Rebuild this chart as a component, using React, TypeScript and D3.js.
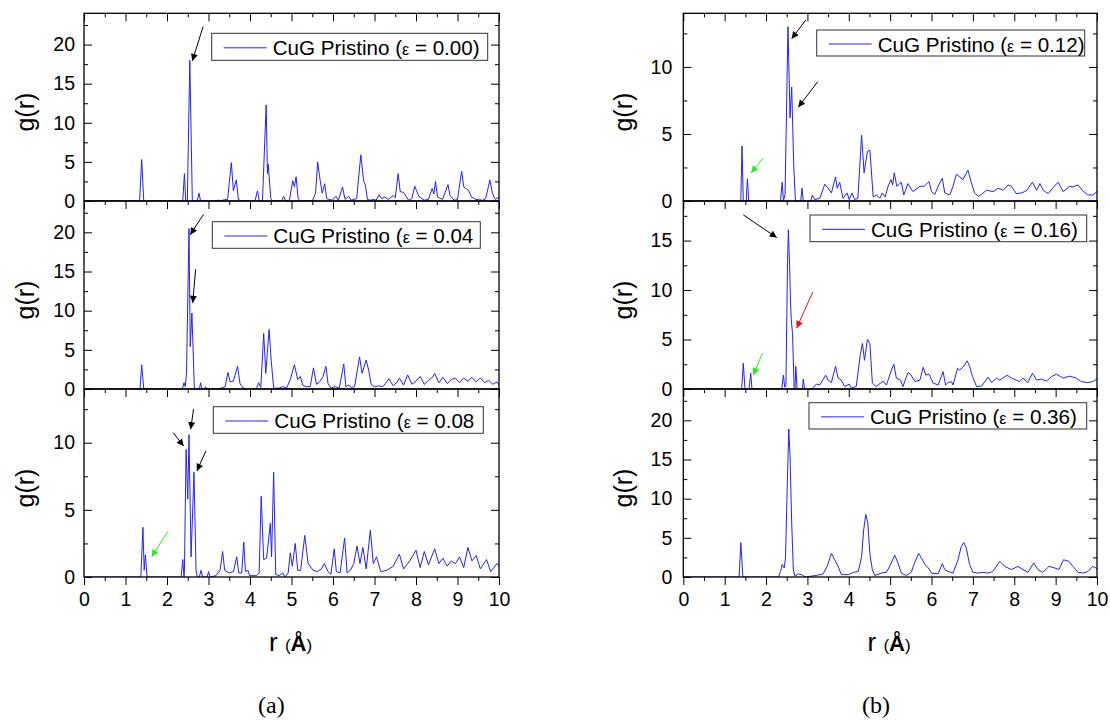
import React, { useEffect, useRef } from "react";
import * as d3 from "d3";

type Pt = [number, number];
type Arrow = [number, number, number, number, string];

// g(r) curves (r in Å, g(r))
const gr000: Pt[] = [
  [0, 0], [1.34, 0], [1.39, 5.3], [1.44, 0],
  [2.38, 0], [2.42, 3.5], [2.45, 0], [2.49, 0], [2.55, 18.0], [2.61, 0],
  [2.73, 0], [2.77, 1.0], [2.81, 0],
  [3.18, 0], [3.22, 0.1], [3.3, 0.05], [3.38, 0.15], [3.46, 0.2],
  [3.55, 4.9], [3.6, 1.3], [3.67, 2.7], [3.72, 0.2], [3.8, 0],
  [4.12, 0], [4.18, 1.3], [4.22, 0.1], [4.3, 0], [4.39, 12.3], [4.42, 3.5], [4.44, 4.7], [4.5, 0.3], [4.55, 0],
  [4.76, 0], [4.81, 0.6], [4.86, 0], [4.95, 0.1], [5.03, 2.6], [5.07, 1.8], [5.11, 3.1], [5.16, 0.3], [5.22, 0],
  [5.5, 0], [5.58, 1.0], [5.63, 5.0], [5.68, 3.0], [5.74, 1.0], [5.8, 2.2], [5.85, 0.3], [5.98, 0.1],
  [6.07, 0.6], [6.13, 0.1], [6.23, 1.8], [6.29, 0.2], [6.38, 0.6], [6.44, 0.1], [6.57, 0.3], [6.67, 5.9],
  [6.74, 2.5], [6.78, 2.05], [6.83, 0.2],
  [6.9, 0.1], [6.97, 0.2], [7.04, 0.1], [7.11, 0.8], [7.17, 0.3], [7.25, 0.5], [7.33, 0.2], [7.45, 0.7], [7.5, 0.4],
  [7.57, 3.5], [7.62, 1.2], [7.7, 1.1], [7.76, 0.6], [7.82, 0.1], [7.9, 0.3],
  [7.97, 1.9], [8.02, 1.2], [8.08, 0.5], [8.2, 0.1], [8.3, 0.2],
  [8.39, 1.6], [8.43, 0.9], [8.47, 2.5], [8.52, 0.5], [8.64, 0.2], [8.77, 2.1], [8.82, 0.7], [8.92, 0.1], [9.0, 0.2],
  [9.1, 3.8], [9.15, 1.8], [9.26, 1.4], [9.34, 0.5], [9.44, 0.2], [9.6, 0.1], [9.68, 0.3], [9.78, 2.7],
  [9.84, 1.0], [9.91, 0.2], [10, 0.5],
];

const gr004: Pt[] = [
  [0, 0], [1.35, 0], [1.39, 3.1], [1.44, 0],
  [2.37, 0], [2.41, 0.8], [2.44, 0.3], [2.47, 2.0], [2.53, 20.5], [2.56, 5.4], [2.6, 9.7], [2.66, 0],
  [2.78, 0], [2.81, 0.8], [2.84, 0], [2.9, 0], [2.93, 0.3], [2.96, 0],
  [3.2, 0], [3.3, 0.1], [3.4, 0.3], [3.47, 2.1], [3.52, 0.9], [3.6, 1.0], [3.7, 2.9], [3.76, 0.7], [3.82, 0.2], [3.9, 0],
  [4.15, 0], [4.21, 0.8], [4.26, 0.2], [4.33, 7.1], [4.38, 2.0], [4.46, 7.6], [4.51, 3.7], [4.57, 0.1],
  [4.7, 0.1], [4.79, 0.3], [4.88, 0.1], [4.97, 1.2], [5.07, 3.1], [5.15, 1.2], [5.21, 1.6], [5.27, 0.5],
  [5.35, 0.3], [5.45, 0.3], [5.53, 2.7], [5.6, 0.6], [5.68, 0.9], [5.76, 1.6], [5.83, 2.9], [5.88, 0.7], [5.95, 0.1],
  [6.05, 0.3], [6.15, 0.1], [6.26, 3.2], [6.31, 0.3], [6.38, 0.5], [6.44, 0.2], [6.52, 0.3], [6.64, 4.1],
  [6.7, 2.0], [6.8, 3.7], [6.86, 2.4],
  [6.92, 0.6], [7.0, 0.3], [7.1, 0.4], [7.2, 0.3], [7.35, 1.3], [7.45, 0.4], [7.55, 0.9], [7.6, 1.4], [7.7, 0.5],
  [7.8, 1.8], [7.9, 0.6], [8.0, 1.0], [8.1, 1.6], [8.2, 0.6], [8.3, 1.1], [8.4, 1.5], [8.45, 2.0], [8.55, 0.8],
  [8.65, 1.5], [8.75, 0.7], [8.85, 1.2], [8.95, 1.4], [9.05, 0.8], [9.15, 1.4], [9.25, 1.0], [9.35, 1.5],
  [9.45, 0.9], [9.55, 1.4], [9.65, 0.8], [9.75, 1.1], [9.85, 0.6], [9.95, 0.9], [10, 0.5],
];

const gr008: Pt[] = [
  [0, 0], [1.37, 0], [1.42, 3.7], [1.45, 0.5], [1.48, 1.65], [1.52, 0],
  [2.34, 0], [2.38, 1.3], [2.41, 0], [2.42, 0.5], [2.46, 9.5], [2.5, 5.8], [2.53, 10.6], [2.58, 1.5],
  [2.65, 7.8], [2.7, 0.5], [2.73, 0],
  [2.78, 0], [2.82, 0.5], [2.86, 0], [2.97, 0], [3.0, 0.4], [3.04, 0],
  [3.18, 0.1], [3.28, 0.5], [3.34, 1.9], [3.39, 0.5], [3.5, 0.3], [3.6, 0.4], [3.68, 1.5], [3.73, 0.3],
  [3.8, 0.3], [3.85, 2.6], [3.89, 0.4], [3.95, 0.5], [3.99, 0.1],
  [4.15, 0.1], [4.22, 0.3], [4.27, 6.0], [4.33, 1.3], [4.4, 1.4], [4.49, 4.0], [4.52, 1.5], [4.57, 7.8],
  [4.62, 0.2], [4.7, 0.1], [4.79, 0.3], [4.84, 0],
  [4.92, 0.3], [4.97, 1.8], [5.02, 0.8], [5.09, 2.5], [5.15, 0.5], [5.22, 0.5], [5.32, 3.1], [5.4, 1.0],
  [5.52, 0.5], [5.62, 0.4], [5.72, 0.6], [5.79, 1.0], [5.88, 0.4], [5.95, 0.2],
  [6.03, 2.1], [6.08, 0.4], [6.17, 0.3], [6.28, 2.9], [6.34, 0.3], [6.42, 0.5], [6.5, 1.0], [6.58, 2.3],
  [6.65, 1.0], [6.72, 2.2], [6.8, 0.6], [6.9, 3.5], [6.97, 1.0], [7.05, 1.5], [7.15, 0.4], [7.3, 0.5],
  [7.45, 0.8], [7.6, 1.7], [7.7, 0.6], [7.85, 1.2], [8.0, 2.0], [8.1, 0.7], [8.2, 1.9], [8.3, 0.9],
  [8.45, 2.1], [8.55, 1.0], [8.65, 1.4], [8.75, 0.8], [8.85, 1.2], [8.95, 1.0], [9.05, 1.5], [9.15, 0.7],
  [9.25, 2.2], [9.35, 1.2], [9.45, 1.6], [9.55, 0.6], [9.7, 1.3], [9.8, 0.4], [9.95, 1.0], [10, 0.8],
];

const gr012: Pt[] = [
  [0, 0], [1.39, 0], [1.42, 4.1], [1.45, 0], [1.52, 0], [1.55, 1.65], [1.58, 0],
  [2.35, 0], [2.39, 1.4], [2.42, 0], [2.46, 0.5], [2.53, 13.0], [2.58, 6.2], [2.62, 8.5], [2.67, 2.6], [2.71, 0],
  [2.84, 0], [2.87, 0.95], [2.9, 0], [3.08, 0], [3.12, 0.45], [3.18, 0.1], [3.3, 0.2], [3.42, 1.25],
  [3.5, 0.95], [3.58, 0.6], [3.68, 1.8], [3.72, 0.95], [3.78, 1.4], [3.86, 0.2], [3.96, 0.6], [4.01, 0.1],
  [4.08, 0.6], [4.14, 0.1], [4.22, 0.2],
  [4.31, 4.9], [4.37, 2.1], [4.45, 3.7], [4.51, 3.8], [4.59, 0.3], [4.67, 0.45], [4.75, 0.2], [4.81, 0.6], [4.88, 0.3],
  [4.95, 1.1], [5.02, 1.6], [5.06, 1.2], [5.1, 2.1], [5.16, 1.1], [5.27, 1.4], [5.33, 0.45], [5.43, 1.3],
  [5.55, 0.7], [5.72, 1.1], [5.82, 1.1], [5.94, 1.45], [6.0, 0.7], [6.08, 0.5], [6.16, 1.1], [6.26, 1.7],
  [6.32, 0.6], [6.44, 0.45], [6.52, 1.1], [6.6, 2.0], [6.68, 1.8], [6.76, 1.6], [6.88, 2.3], [6.96, 1.4],
  [7.04, 0.6], [7.13, 0.35], [7.21, 0.5], [7.33, 0.8], [7.49, 0.7], [7.61, 0.95], [7.73, 0.8], [7.85, 1.2],
  [7.93, 1.1], [8.05, 0.55], [8.17, 0.6], [8.29, 0.75], [8.44, 1.4], [8.54, 0.8], [8.62, 1.3], [8.7, 0.8],
  [8.82, 0.55], [8.94, 1.0], [9.06, 1.4], [9.18, 0.7], [9.34, 1.1], [9.42, 1.05], [9.54, 1.2], [9.66, 0.75],
  [9.78, 0.45], [9.9, 0.45], [10, 0.7],
];

const gr016: Pt[] = [
  [0, 0], [1.41, 0], [1.45, 2.6], [1.49, 0], [1.59, 0], [1.63, 1.6], [1.66, 0],
  [2.38, 0], [2.42, 1.4], [2.45, 0.2], [2.48, 0.3], [2.52, 13.0], [2.54, 16.1], [2.57, 12.4], [2.59, 9.0],
  [2.61, 7.0], [2.64, 5.6], [2.68, 0],
  [2.7, 0], [2.72, 2.3], [2.75, 0], [2.88, 0], [2.9, 1.0], [2.93, 0],
  [3.1, 0], [3.22, 0.5], [3.3, 0.4], [3.44, 1.4], [3.5, 0.9], [3.58, 0.65], [3.68, 2.3], [3.74, 1.1],
  [3.82, 0.9], [3.9, 0.25], [4.01, 0.5], [4.06, 0.1], [4.18, 0.25],
  [4.28, 3.5], [4.33, 4.6], [4.38, 2.9], [4.45, 5.0], [4.51, 4.6], [4.57, 0.6], [4.66, 0.25], [4.83, 0.8],
  [4.91, 0.4], [5.03, 1.9], [5.09, 2.5], [5.15, 1.1], [5.25, 0.9], [5.31, 0.25], [5.43, 1.65], [5.49, 1.5],
  [5.6, 0.75], [5.72, 0.9], [5.8, 2.2], [5.86, 1.4], [5.94, 1.5], [6.04, 0.6], [6.16, 0.4], [6.28, 1.75],
  [6.34, 0.4], [6.4, 0.65], [6.48, 0.75], [6.52, 0.4], [6.63, 2.1], [6.68, 1.9], [6.78, 2.3], [6.86, 2.85],
  [6.92, 2.3], [6.99, 1.25], [7.09, 0.25], [7.21, 0.3], [7.37, 1.2], [7.45, 0.65], [7.57, 1.1], [7.65, 0.9],
  [7.83, 1.4], [7.93, 1.1], [8.05, 0.9], [8.13, 0.75], [8.21, 1.1], [8.33, 0.65], [8.44, 1.6], [8.54, 0.9],
  [8.66, 1.0], [8.78, 0.8], [8.9, 1.25], [9.02, 1.5], [9.18, 1.1], [9.34, 1.3], [9.5, 1.1], [9.62, 0.75],
  [9.78, 0.65], [9.9, 0.75], [10, 1.0],
];

const gr036: Pt[] = [
  [0, 0], [1.35, 0], [1.39, 4.4], [1.44, 0],
  [2.3, 0], [2.35, 0.7], [2.39, 1.6], [2.44, 1.15], [2.47, 2.4], [2.51, 11.1], [2.55, 18.9], [2.58, 15.4],
  [2.62, 6.9], [2.66, 0.9], [2.7, 0.1], [2.78, 0.4], [2.86, 0.3], [2.94, 0],
  [3.22, 0.2], [3.38, 0.4], [3.48, 1.4], [3.58, 3.0], [3.66, 2.2], [3.74, 1.4], [3.82, 0.3], [3.99, 0.3],
  [4.11, 0.6], [4.23, 0.7], [4.31, 2.6], [4.36, 6.0], [4.41, 8.0], [4.46, 6.9], [4.51, 3.0], [4.57, 0.9],
  [4.63, 0.2], [4.79, 0.5], [4.91, 0.6], [5.03, 1.8], [5.11, 2.8], [5.19, 1.8], [5.27, 0.5], [5.39, 0.2],
  [5.51, 0.6], [5.59, 1.8], [5.69, 3.0], [5.76, 2.4], [5.84, 1.6], [5.92, 1.2], [6.0, 0.5], [6.16, 0.4],
  [6.26, 1.7], [6.32, 0.95], [6.4, 0.7], [6.52, 0.5], [6.64, 2.2], [6.72, 3.9], [6.78, 4.4], [6.84, 3.7],
  [6.92, 1.6], [7.0, 0.6], [7.12, 0.5], [7.24, 0.6], [7.36, 0.5], [7.48, 0.7], [7.65, 2.0], [7.77, 1.35],
  [7.93, 0.95], [8.09, 1.35], [8.21, 0.95], [8.33, 0.6], [8.47, 1.8], [8.57, 0.95], [8.69, 0.6], [8.84, 1.35],
  [8.98, 1.15], [9.08, 0.95], [9.19, 2.2], [9.32, 2.0], [9.42, 1.35], [9.54, 0.6], [9.66, 0.5], [9.78, 0.7],
  [9.89, 1.35], [9.98, 1.15], [10, 1.0],
];

// arrows: r tail, g tail, r tip, g tip, colour
const arrows000: Arrow[] = [[2.87, 22.3, 2.61, 17.9, "#000"]];
const arrows004: Arrow[] = [
  [2.88, 22.3, 2.56, 19.7, "#000"],
  [2.69, 15.3, 2.62, 11.0, "#000"],
];
const arrows008: Arrow[] = [
  [2.15, 10.75, 2.4, 9.75, "#000"],
  [2.64, 12.5, 2.57, 11.0, "#000"],
  [2.94, 9.4, 2.72, 7.9, "#000"],
  [2.02, 3.4, 1.63, 1.5, "#22ee22"],
];
const arrows012: Arrow[] = [
  [2.96, 13.5, 2.62, 12.1, "#000"],
  [3.25, 8.9, 2.78, 7.0, "#000"],
  [1.93, 3.2, 1.64, 2.1, "#22ee22"],
];
const arrows016: Arrow[] = [
  [1.45, 17.6, 2.26, 15.3, "#000"],
  [3.13, 9.8, 2.74, 6.15, "#ee1111"],
  [1.91, 3.6, 1.69, 1.4, "#22ee22"],
];
const arrows036: Arrow[] = [];

const legendLabels = ["0.00)", "0.04", "0.08", "0.12)", "0.16)", "0.36)"];
const yMax = [24, 24, 14, 14, 19, 24];
const yLabelTicks = [
  [0, 5, 10, 15, 20],
  [0, 5, 10, 15, 20],
  [0, 5, 10],
  [0, 5, 10],
  [0, 5, 10, 15],
  [0, 5, 10, 15, 20],
];
const xTicks = d3.range(0, 11);

const cols = [
  { x0: 84, x1: 499, ylab: 34, pad: 9, xlab: 269, cap: 258, capText: "(a)" },
  { x0: 683.3, x1: 1097, ylab: 632, pad: 11, xlab: 867.5, cap: 862, capText: "(b)" },
];
const rowTops = [13.3, 201, 389, 577];
// legend box: offset from panel left/top, width, height
const legendBoxes = [
  [127.7, 20, 276, 27],
  [128.3, 20.7, 268, 26.6],
  [129.3, 17.7, 270, 26.6],
  [133.4, 16.7, 268, 26],
  [126.7, 14, 276.7, 26.7],
  [125.7, 13.7, 277.7, 26.3],
];

const FONT = "'Liberation Sans', Arial, sans-serif";
const BLUE = "#2222ff";

export default function App() {
  const ref = useRef<SVGSVGElement>(null);

  useEffect(() => {
    const svg = d3.select(ref.current);
    svg.selectAll("*").remove();
    const defs = svg.append("defs");

    const series = [gr000, gr004, gr008, gr012, gr016, gr036];
    const arrowSets = [arrows000, arrows004, arrows008, arrows012, arrows016, arrows036];

    const markerId = (c: string) => "ah" + c.replace("#", "");
    ["#000", "#22ee22", "#ee1111"].forEach((c) => {
      defs.append("marker")
        .attr("id", markerId(c))
        .attr("viewBox", "0 0 10 10")
        .attr("refX", 10).attr("refY", 5)
        .attr("markerUnits", "userSpaceOnUse")
        .attr("markerWidth", 9).attr("markerHeight", 7)
        .attr("orient", "auto")
        .append("path").attr("d", "M0,0 L10,5 L0,10 z").attr("fill", c);
    });

    series.forEach((data, i) => {
      const c = cols[Math.floor(i / 3)];
      const row = i % 3;
      const top = rowTops[row], bottom = rowTops[row + 1];
      const x = d3.scaleLinear().domain([0, 10]).range([c.x0, c.x1]);
      const y = d3.scaleLinear().domain([0, yMax[i]]).range([bottom, top]);
      const g = svg.append("g");

      defs.append("clipPath").attr("id", "clip" + i)
        .append("rect").attr("x", c.x0).attr("y", top).attr("width", c.x1 - c.x0).attr("height", bottom - top);

      const line = d3.line<Pt>().x((d) => x(d[0])).y((d) => y(d[1]));
      g.append("path").datum(data)
        .attr("clip-path", `url(#clip${i})`)
        .attr("d", line)
        .attr("fill", "none").attr("stroke", BLUE).attr("stroke-width", 1);

      const minorX = d3.range(0.5, 10, 1);
      const yMinor = d3.range(2.5, yMax[i], 5);
      const yMajor = d3.range(0, yMax[i] + 0.01, 5);

      // x ticks point down from each horizontal edge
      const tickAxes = (pos: number, isBottom: boolean) => {
        g.append("g").attr("transform", `translate(0,${pos})`)
          .call(d3.axisBottom(x).tickValues(xTicks).tickSize(8).tickFormat(() => ""))
          .call((s) => s.select(".domain").remove());
        g.append("g").attr("transform", `translate(0,${pos})`)
          .call(d3.axisBottom(x).tickValues(minorX).tickSize(4).tickFormat(() => ""))
          .call((s) => s.select(".domain").remove());
        if (isBottom) {
          g.append("g").attr("transform", `translate(0,${pos})`)
            .call(d3.axisBottom(x).tickValues(xTicks).tickSize(0).tickPadding(15.5).tickFormat(d3.format("d")))
            .call((s) => s.select(".domain").remove())
            .call((s) => s.selectAll("text").attr("font-size", 19.5).attr("font-family", FONT).attr("fill", "#000"));
        }
      };
      tickAxes(top, false);
      if (row === 2) tickAxes(bottom, true);

      // left and right ticks, inward
      const yt = (scaleAxis: any, pos: number, vals: number[], size: number) => {
        g.append("g").attr("transform", `translate(${pos},0)`)
          .call(scaleAxis(y).tickValues(vals).tickSize(size).tickFormat(() => ""))
          .call((s: any) => s.select(".domain").remove());
      };
      yt(d3.axisRight, c.x0, yMajor, 8);
      yt(d3.axisRight, c.x0, yMinor, 4);
      yt(d3.axisLeft, c.x1, yMajor, 8);
      yt(d3.axisLeft, c.x1, yMinor, 4);

      g.append("g").attr("transform", `translate(${c.x0},0)`)
        .call(d3.axisLeft(y).tickValues(yLabelTicks[i]).tickSize(0).tickPadding(c.pad).tickFormat(d3.format("d")))
        .call((s) => s.select(".domain").remove())
        .call((s) => s.selectAll("text").attr("font-size", 19.5).attr("font-family", FONT).attr("fill", "#000"));

      g.append("rect").attr("x", c.x0).attr("y", top)
        .attr("width", c.x1 - c.x0).attr("height", bottom - top)
        .attr("fill", "none").attr("stroke", "#000").attr("stroke-width", 1.3);

      // legend
      const [lx, ly, lw, lh] = legendBoxes[i];
      const lg = g.append("g").attr("transform", `translate(${c.x0 + lx},${top + ly})`);
      lg.append("rect").attr("width", lw).attr("height", lh)
        .attr("fill", "#fff").attr("stroke", "#333").attr("stroke-width", 1);
      lg.append("line").attr("x1", 12).attr("x2", 55).attr("y1", lh / 2 + 1).attr("y2", lh / 2 + 1)
        .attr("stroke", BLUE).attr("stroke-width", 1);
      const lt = lg.append("text").attr("x", 61).attr("y", lh / 2 + 8.5)
        .attr("font-family", FONT).attr("font-size", 20.6).attr("fill", "#000");
      lt.append("tspan").text("CuG Pristino (");
      lt.append("tspan").attr("font-size", 16).text("ε");
      lt.append("tspan").text(" = " + legendLabels[i]);

      // arrows
      arrowSets[i].forEach(([r1, g1, r2, g2, col]) => {
        g.append("line")
          .attr("x1", x(r1)).attr("y1", y(g1)).attr("x2", x(r2)).attr("y2", y(g2))
          .attr("stroke", col).attr("stroke-width", 1)
          .attr("marker-end", `url(#${markerId(col)})`);
      });

      // y label
      g.append("text")
        .attr("transform", `translate(${c.ylab},${(top + bottom) / 2 + 5}) rotate(-90)`)
        .attr("text-anchor", "middle")
        .attr("font-family", FONT).attr("font-size", 25)
        .text("g(r)");
    });

    cols.forEach((c) => {
      const t = svg.append("text").attr("x", c.xlab).attr("y", 651)
        .attr("font-family", FONT).attr("font-size", 26).attr("fill", "#000");
      t.append("tspan").text("r ");
      t.append("tspan").attr("font-size", 17).text("(");
      t.append("tspan").attr("font-size", 22).attr("font-weight", "bold").text("Å");
      t.append("tspan").attr("font-size", 17).text(")");

      svg.append("text").attr("x", c.cap).attr("y", 713)
        .attr("font-family", "'Liberation Serif', 'DejaVu Serif', serif").attr("font-size", 24)
        .text(c.capText);
    });
  }, []);

  return (
    <svg
      ref={ref}
      width={1110}
      height={721}
      style={{ position: "absolute", left: 0, top: 0, background: "#fff" }}
    />
  );
}
